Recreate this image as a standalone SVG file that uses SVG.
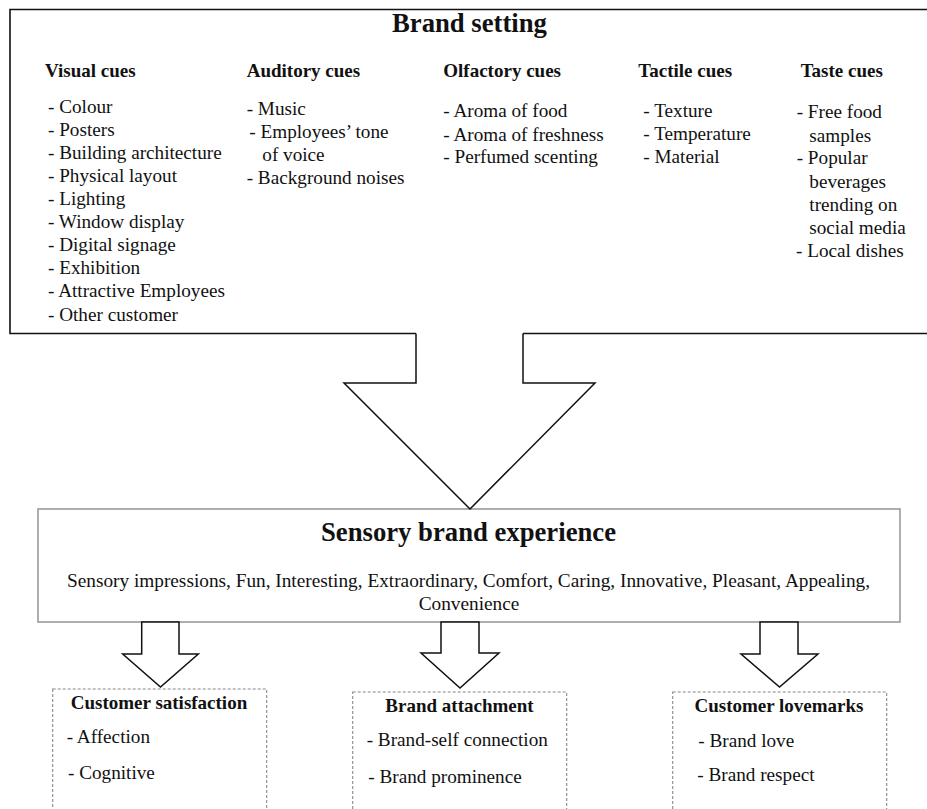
<svg xmlns="http://www.w3.org/2000/svg" width="927" height="809" viewBox="0 0 927 809">
<style>
text{font-family:"Liberation Serif","Times New Roman",serif;fill:#111}
.t1{font-size:26.7px;font-weight:bold}
.h{font-size:19px;font-weight:bold}
.i{font-size:19.2px}
.d{font-size:19.3px}
.frame{fill:none;stroke:#111;stroke-width:1.6}
.arr{fill:#fff;stroke:#111;stroke-width:1.5;stroke-linejoin:miter}
.sens{fill:#fff;stroke:#9a9a9a;stroke-width:1.6}
.dash{fill:#fff;stroke:#888;stroke-width:1.1;stroke-dasharray:3 2}
</style>
<g id="brand-setting">
<path class="frame" d="M416,333.5 H10 V9.5 H932 V333.5 H523"/>
<text class="t1" x="469.5" y="32" text-anchor="middle">Brand setting</text>
<g id="visual-cues">
<text class="h" x="45" y="77">Visual cues</text>
<text class="i" x="48" y="113">- Colour</text>
<text class="i" x="48" y="136">- Posters</text>
<text class="i" x="48" y="159">- Building architecture</text>
<text class="i" x="48" y="182">- Physical layout</text>
<text class="i" x="48" y="205">- Lighting</text>
<text class="i" x="48" y="228">- Window display</text>
<text class="i" x="48" y="251">- Digital signage</text>
<text class="i" x="48" y="274">- Exhibition</text>
<text class="i" x="48" y="297">- Attractive Employees</text>
<text class="i" x="48" y="320.5">- Other customer</text>
</g>
<g id="auditory-cues">
<text class="h" x="246.7" y="76.5">Auditory cues</text>
<text class="i" x="246.7" y="115">- Music</text>
<text class="i" x="249.3" y="137.7">- Employees’ tone</text>
<text class="i" x="262.3" y="161">of voice</text>
<text class="i" x="246.7" y="184">- Background noises</text>
</g>
<g id="olfactory-cues">
<text class="h" x="443.3" y="76.5">Olfactory cues</text>
<text class="i" x="443.3" y="117.3">- Aroma of food</text>
<text class="i" x="443.3" y="140.7">- Aroma of freshness</text>
<text class="i" x="443.3" y="163.3">- Perfumed scenting</text>
</g>
<g id="tactile-cues">
<text class="h" x="638.3" y="76.5">Tactile cues</text>
<text class="i" x="643.3" y="116.7">- Texture</text>
<text class="i" x="643.3" y="140">- Temperature</text>
<text class="i" x="643.3" y="162.7">- Material</text>
</g>
<g id="taste-cues">
<text class="h" x="800.7" y="76.5">Taste cues</text>
<text class="i" x="796.7" y="118.3">- Free food</text>
<text class="i" x="809.3" y="141.7">samples</text>
<text class="i" x="796.7" y="164.3">- Popular</text>
<text class="i" x="809.3" y="187.7">beverages</text>
<text class="i" x="809.3" y="210.7">trending on</text>
<text class="i" x="809.3" y="234.3">social media</text>
<text class="i" x="796" y="257.3">- Local dishes</text>
</g>
</g>
<g id="sensory-brand-experience">
<rect class="sens" x="38" y="509" width="862" height="113"/>
<text class="t1" x="468.5" y="540.7" text-anchor="middle">Sensory brand experience</text>
<text class="d" x="468.5" y="586.7" text-anchor="middle">Sensory impressions, Fun, Interesting, Extraordinary, Comfort, Caring, Innovative, Pleasant, Appealing,</text>
<text class="d" x="469" y="610" text-anchor="middle">Convenience</text>
</g>
<g id="customer-satisfaction">
<rect class="dash" x="52.7" y="689" width="214" height="130"/>
<text class="h" x="159" y="709" text-anchor="middle">Customer satisfaction</text>
<text class="i" x="66.7" y="743.3">- Affection</text>
<text class="i" x="68" y="779.3">- Cognitive</text>
</g>
<g id="brand-attachment">
<rect class="dash" x="352.7" y="692" width="214" height="127"/>
<text class="h" x="459.5" y="712.3" text-anchor="middle">Brand attachment</text>
<text class="i" x="366.7" y="746">- Brand-self connection</text>
<text class="i" x="368.3" y="783.3">- Brand prominence</text>
</g>
<g id="customer-lovemarks">
<rect class="dash" x="672.7" y="692" width="214" height="127"/>
<text class="h" x="779" y="712.3" text-anchor="middle">Customer lovemarks</text>
<text class="i" x="698.3" y="747.3">- Brand love</text>
<text class="i" x="697.3" y="781">- Brand respect</text>
</g>
<g id="connectors">
<path class="arr" d="M416,333.5 V383 H344 L470,509 L595,383 H523 V333.5"/>
<path class="arr" d="M141.7,622 V654 H122.7 L160.5,687 L198.3,654 H179 V622 Z"/>
<path class="arr" d="M441,622 V653 H421 L460,688 L499,653 H479 V622 Z"/>
<path class="arr" d="M760,622 V654 H741 L779.5,687 L818,654 H798 V622 Z"/>
</g>
</svg>
